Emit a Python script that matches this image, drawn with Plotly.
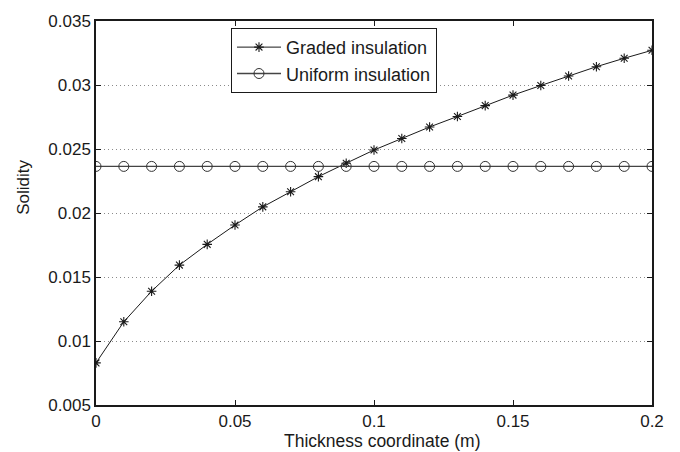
import plotly.graph_objects as go

x_vals = [0.00, 0.01, 0.02, 0.03, 0.04, 0.05, 0.06, 0.07, 0.08, 0.09, 0.10,
          0.11, 0.12, 0.13, 0.14, 0.15, 0.16, 0.17, 0.18, 0.19, 0.20]
graded = [0.00829, 0.0115, 0.01389, 0.01593, 0.01755, 0.01906, 0.02048, 0.02166,
          0.02284, 0.02389, 0.02492, 0.02582, 0.02672, 0.02754, 0.02839, 0.02921,
          0.02996, 0.0307, 0.03143, 0.03209, 0.03271]
uniform = [0.02364] * len(x_vals)

x_ticks = [0, 0.05, 0.1, 0.15, 0.2]
x_tick_labels = ["0", "0.05", "0.1", "0.15", "0.2"]
y_ticks = [0.005, 0.01, 0.015, 0.02, 0.025, 0.03, 0.035]
y_tick_labels = ["0.005", "0.01", "0.015", "0.02", "0.025", "0.03", "0.035"]

FONT = "Liberation Sans, Arial, Helvetica, sans-serif"

fig = go.Figure()
fig.add_trace(go.Scatter(
    x=x_vals, y=graded, mode="lines+markers", name="Graded insulation",
    line=dict(color="#1a1a1a", width=1),
    marker=dict(symbol="asterisk-open", size=8, color="#1a1a1a",
                line=dict(color="#1a1a1a", width=1.1)),
))
fig.add_trace(go.Scatter(
    x=x_vals, y=uniform, mode="lines+markers", name="Uniform insulation",
    line=dict(color="#444444", width=1.3),
    marker=dict(symbol="circle-open", size=10, color="#333333",
                line=dict(color="#333333", width=1)),
))

fig.update_layout(
    width=680, height=452,
    margin=dict(l=96, r=28, t=16, b=47),
    paper_bgcolor="white", plot_bgcolor="white",
    font=dict(family=FONT, size=17, color="#1a1a1a"),
    showlegend=True,
    legend=dict(
        x=0.2428, y=0.982, xanchor="left", yanchor="top",
        bgcolor="white", bordercolor="#1a1a1a", borderwidth=1,
        font=dict(family=FONT, size=18, color="#1a1a1a"),
        tracegroupgap=0, itemwidth=44,
    ),
    xaxis=dict(
        range=[0, 0.2], tickvals=x_ticks, ticktext=x_tick_labels,
        showgrid=False, zeroline=False,
        showline=True, linecolor="#1a1a1a", linewidth=1.5, mirror="ticks",
        ticks="inside", ticklen=5, tickcolor="#1a1a1a",
        tickfont=dict(family=FONT, size=17),
    ),
    yaxis=dict(
        range=[0.005, 0.035], tickvals=y_ticks, ticktext=y_tick_labels,
        showgrid=True, gridcolor="#8a8a8a", gridwidth=1, griddash="1px,3px",
        zeroline=False,
        showline=True, linecolor="#1a1a1a", linewidth=1.5, mirror="ticks",
        ticks="inside", ticklen=5, tickcolor="#1a1a1a",
        tickfont=dict(family=FONT, size=17),
    ),
    annotations=[
        dict(text="Thickness coordinate (m)", xref="paper", yref="paper",
             x=(382 - 96) / 556, y=(405 - 441) / 389, xanchor="center", yanchor="middle",
             showarrow=False, font=dict(family=FONT, size=17.5)),
        dict(text="Solidity", xref="paper", yref="paper",
             x=(24 - 96) / 556, y=(405 - 185) / 389, xanchor="center", yanchor="middle",
             textangle=-90, showarrow=False, font=dict(family=FONT, size=17)),
    ],
)

fig.write_html("out.html")
